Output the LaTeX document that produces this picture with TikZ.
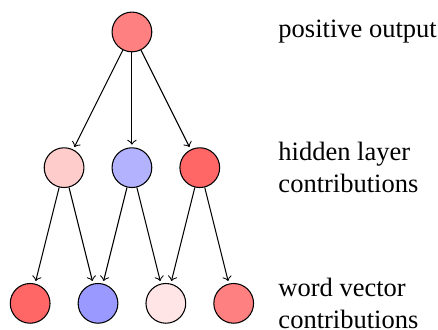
\documentclass[tikz,border=0pt]{standalone}
\usepackage{fontspec}
\setmainfont{Liberation Serif}

\begin{document}
\begin{tikzpicture}[neuron/.style = {circle, draw, inner sep = 0pt, minimum size = 15pt},
    label text/.style = {anchor = west, align = left}]
    \useasboundingbox (-1.75, 0.424) rectangle (4.06, -3.952);
    \node[neuron, fill = red!50] (Output) at (0, 0) {};
    \node[neuron, fill = red!20] (Hidden A) at (-0.9, -1.8) {};
    \node[neuron, fill = blue!30] (Hidden B) at (0, -1.8) {};
    \node[neuron, fill = red!60] (Hidden C) at (0.9, -1.8) {};
    \node[neuron, fill = red!60] (Word A) at (-1.35, -3.6) {};
    \node[neuron, fill = blue!40] (Word B) at (-0.45, -3.6) {};
    \node[neuron, fill = red!10] (Word C) at (0.45, -3.6) {};
    \node[neuron, fill = red!50] (Word D) at (1.35, -3.6) {};
    \draw[->, shorten >= 1pt] (Output) -- (Hidden A);
    \draw[->, shorten >= 1pt] (Output) -- (Hidden B);
    \draw[->, shorten >= 1pt] (Output) -- (Hidden C);
    \draw[->, shorten >= 1pt] (Hidden A) -- (Word A);
    \draw[->, shorten >= 1pt] (Hidden A) -- (Word B);
    \draw[->, shorten >= 1pt] (Hidden B) -- (Word B);
    \draw[->, shorten >= 1pt] (Hidden B) -- (Word C);
    \draw[->, shorten >= 1pt] (Hidden C) -- (Word C);
    \draw[->, shorten >= 1pt] (Hidden C) -- (Word D);
    \node[label text] (Output Label) at (1.82, 0) {positive output};
    \node[label text] (Hidden Label) at (1.82, -1.8) {hidden layer\\contributions};
    \node[label text] (Word Label) at (1.82, -3.6) {word vector\\contributions};
  \end{tikzpicture}
\end{document}
